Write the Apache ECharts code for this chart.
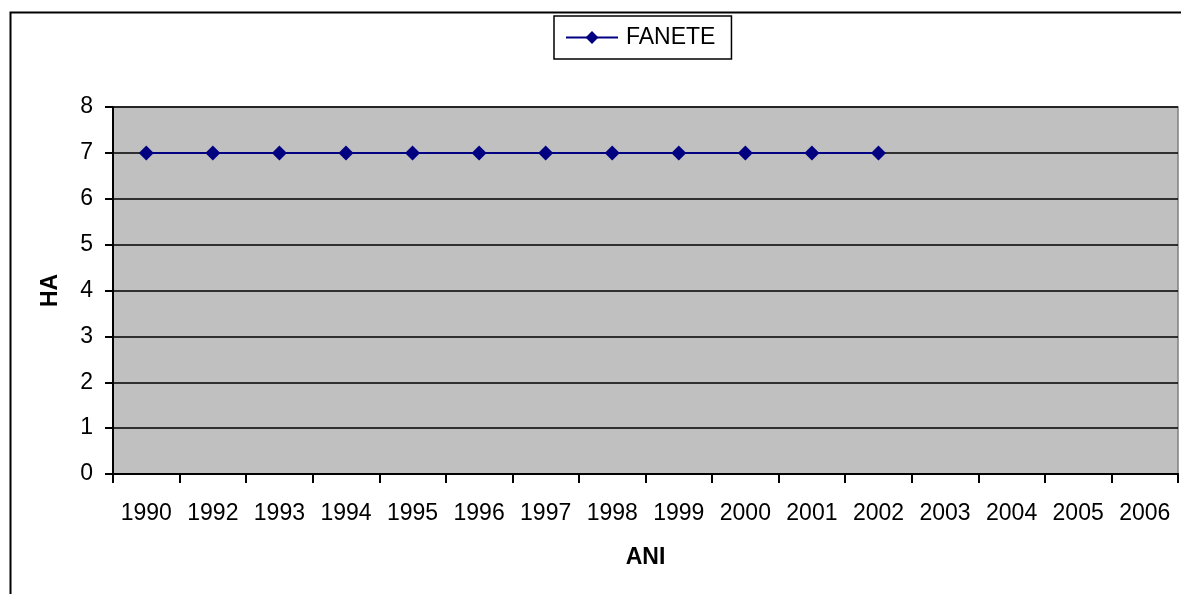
<!DOCTYPE html>
<html><head><meta charset="utf-8">
<script src="https://cdn.jsdelivr.net/npm/echarts@6/dist/echarts.min.js"></script>
<style>html,body{margin:0;padding:0;background:#fff;}#c{width:1181px;height:594px;}</style>
</head><body><div id="c"></div>
<script>
const categories = ['1990','1992','1993','1994','1995','1996','1997','1998','1999','2000','2001','2002','2003','2004','2005','2006'];
const faneteValues = [7,7,7,7,7,7,7,7,7,7,7,7,null,null,null,null];
const seriesName = 'FANETE';
const yTitle = 'HA';
const xTitle = 'ANI';

const chart = echarts.init(document.getElementById('c'));
const font = 'Liberation Sans, Arial, sans-serif';
chart.setOption({
  animation: false,
  textStyle: {fontFamily: font},
  graphic: [{
    type: 'rect', left: 8, top: 10,
    shape: {width: 1200, height: 620},
    style: {fill: 'none', stroke: '#000', lineWidth: 2},
    z: -10
  }],
  legend: {
    top: 16, left: 554,
    data: [seriesName],
    itemWidth: 52, itemHeight: 16,
    itemGap: 9,
    padding: [10, 16, 10, 11],
    borderColor: '#000', borderWidth: 1.5,
    textStyle: {fontSize: 23, color: '#000', fontFamily: font, padding: [0, 0, 0, 3]}
  },
  grid: {
    left: 113, right: 3, top: 107, bottom: 120,
    show: true, backgroundColor: '#c0c0c0', borderColor: '#808080', borderWidth: 1.5
  },
  xAxis: {
    type: 'category', data: categories, boundaryGap: true,
    name: xTitle, nameLocation: 'middle', nameGap: 72,
    nameTextStyle: {fontSize: 23, fontWeight: 'bold', color: '#000'},
    axisLine: {lineStyle: {color: '#000', width: 2}},
    axisTick: {show: true, length: 9, lineStyle: {color: '#000', width: 2}, alignWithLabel: false},
    axisLabel: {fontSize: 23, color: '#000', margin: 28, interval: 0}
  },
  yAxis: {
    type: 'value', min: 0, max: 8, interval: 1,
    name: yTitle, nameLocation: 'middle', nameGap: 51, nameRotate: 90,
    nameTextStyle: {fontSize: 23, fontWeight: 'bold', color: '#000'},
    axisLine: {show: true, lineStyle: {color: '#000', width: 2}},
    axisTick: {show: true, length: 8, lineStyle: {color: '#000', width: 2}},
    axisLabel: {fontSize: 23, color: '#000', margin: 20},
    splitLine: {lineStyle: {color: '#000', width: 1.5}}
  },
  series: [{
    name: seriesName, type: 'line', data: faneteValues,
    symbol: 'diamond', symbolSize: 15, showAllSymbol: true,
    lineStyle: {color: '#000080', width: 2},
    itemStyle: {color: '#000080', borderWidth: 0},
    connectNulls: false
  }]
});
</script></body></html>
